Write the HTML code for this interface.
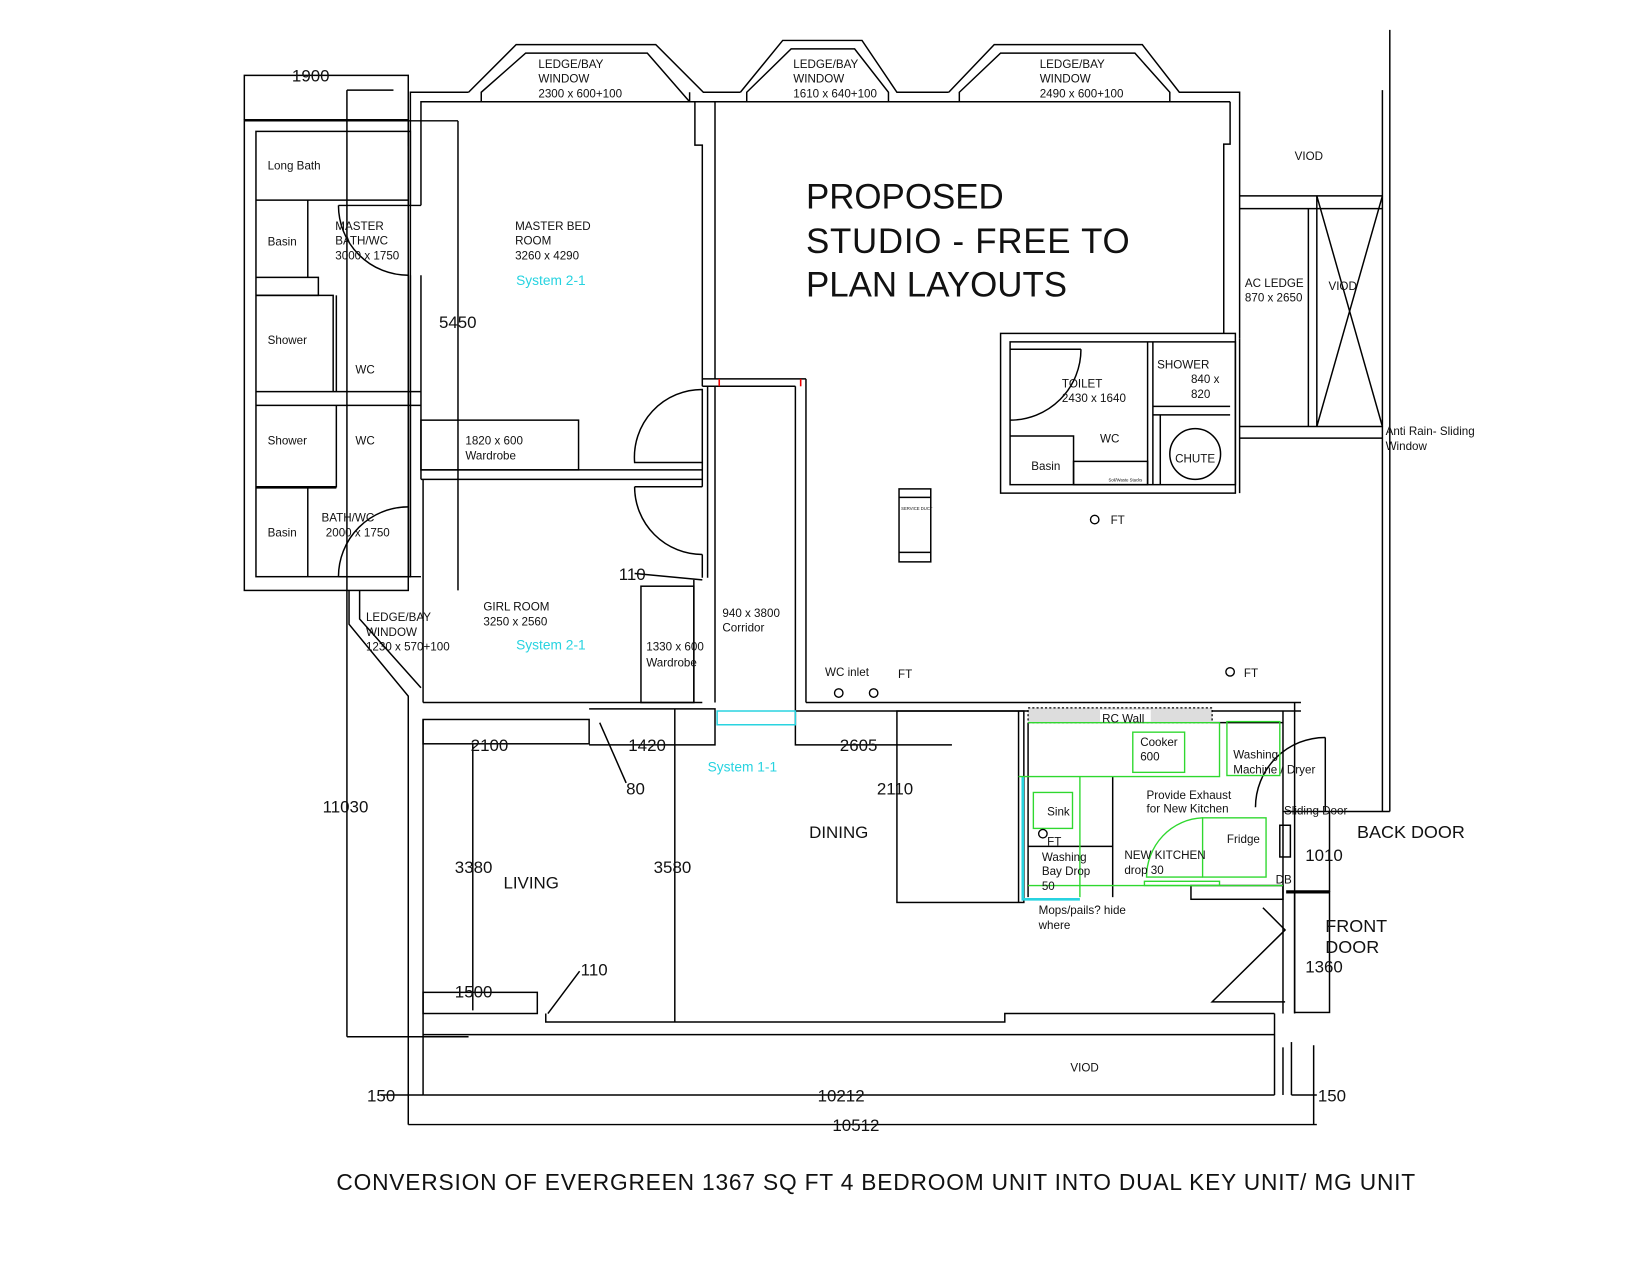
<!DOCTYPE html>
<html><head><meta charset="utf-8"><style>
html,body{margin:0;padding:0;background:#fff;}
svg{display:block;}
text{font-family:"Liberation Sans",Arial,sans-serif;fill:#111;}
.s{font-size:11px;}
.m{font-size:16px;}
.c{fill:#27d3e0;font-size:13px;}
</style></head><body>
<svg width="1650" height="1275" viewBox="0 0 1560 1205" xmlns="http://www.w3.org/2000/svg">
<g fill="none" stroke="#000" stroke-width="1.4">
<polyline points="231,113 231,71 386,71 386,138"/>
<rect x="231" y="113" width="155" height="445"/>
<rect x="242" y="124" width="146" height="421"/>
<line x1="242" y1="189" x2="386" y2="189"/>
<line x1="291" y1="189" x2="291" y2="262"/>
<polyline points="242,262 301,262 301,279 242,279"/>
<polyline points="242,279 315,279 315,370"/>
<line x1="318" y1="279" x2="318" y2="370"/>
<line x1="242" y1="370" x2="398" y2="370"/>
<line x1="242" y1="383" x2="398" y2="383"/>
<polyline points="242,460 318,460 318,383"/>
<line x1="242" y1="461" x2="318" y2="461"/>
<line x1="291" y1="461" x2="291" y2="545"/>
<line x1="328" y1="85" x2="328" y2="980"/>
<line x1="328" y1="85" x2="372" y2="85"/>
<line x1="328" y1="980" x2="443" y2="980"/>
<line x1="231" y1="114" x2="433" y2="114"/>
<line x1="433" y1="114" x2="433" y2="558"/>
<path d="M320,194 A66,66 0 0 0 386,260"/>
<line x1="320" y1="194" x2="398" y2="194"/>
<path d="M320,545 A66,66 0 0 1 386,479"/>
<line x1="320" y1="545" x2="398" y2="545"/>
<polyline points="388,194 388,87 443,87"/>
<polyline points="398,194 398,96 455,96"/>
<line x1="388" y1="260" x2="388" y2="545"/>
<line x1="398" y1="260" x2="398" y2="453"/>
<polyline points="443,87 488,42 620,42 665,87 700,87"/>
<polyline points="455,96 455,87 497,50 612,50 652,96"/>
<line x1="652" y1="96" x2="652" y2="87"/>
<polyline points="700,87 740,38 815,38 848,87 897,87"/>
<polyline points="706,96 706,87 748,46 808,46 840,87 840,96"/>
<polyline points="897,87 940,42 1080,42 1115,87 1172,87 1172,320"/>
<polyline points="907,96 907,87 946,50 1073,50 1106,87 1106,96"/>
<line x1="398" y1="96" x2="1163" y2="96"/>
<polyline points="1163,96 1163,136 1157,136 1157,315"/>
<polyline points="657,96 657,137 664,137 664,365"/>
<line x1="676" y1="96" x2="676" y2="358"/>
<line x1="664" y1="437" x2="664" y2="460"/>
<line x1="398" y1="444" x2="664" y2="444"/>
<line x1="398" y1="453" x2="664" y2="453"/>
<rect x="398" y="397" width="149" height="47"/>
<path d="M664,368 A64,64 0 0 0 600,437 L664,437 Z"/>
<path d="M600,460 A64,64 0 0 0 664,524 M600,460 L664,460"/>
<line x1="664" y1="524" x2="664" y2="546"/>
<line x1="669" y1="365" x2="669" y2="546"/>
<polyline points="600,542 664,548"/>
<line x1="400" y1="453" x2="400" y2="664"/>
<line x1="400" y1="664" x2="664" y2="664"/>
<line x1="656" y1="548" x2="656" y2="664"/>
<rect x="606" y="554" width="50" height="110"/>
<line x1="664" y1="358" x2="762" y2="358"/>
<line x1="664" y1="365" x2="752" y2="365"/>
<line x1="676" y1="365" x2="676" y2="664"/>
<line x1="752" y1="365" x2="752" y2="664"/>
<line x1="762" y1="358" x2="762" y2="664"/>
<line x1="762" y1="664" x2="1230" y2="664"/>
<line x1="752" y1="672" x2="1230" y2="672"/>
<rect x="850" y="462" width="30" height="69"/>
<line x1="850" y1="470" x2="880" y2="470"/>
<line x1="850" y1="522" x2="880" y2="522"/>
<rect x="946" y="315" width="222" height="151"/>
<rect x="955" y="323" width="213" height="135"/>
<line x1="1085" y1="323" x2="1085" y2="458"/>
<line x1="1090" y1="323" x2="1090" y2="458"/>
<line x1="1090" y1="384" x2="1163" y2="384"/>
<line x1="1090" y1="392" x2="1163" y2="392"/>
<line x1="1097" y1="392" x2="1097" y2="458"/>
<circle cx="1130" cy="429" r="24"/>
<line x1="955" y1="330" x2="1022" y2="330"/>
<path d="M1022,330 A67,67 0 0 1 955,397"/>
<polyline points="955,412 1015,412 1015,458"/>
<rect x="1015" y="436" width="70" height="22"/>
<line x1="1172" y1="185" x2="1307" y2="185"/>
<line x1="1172" y1="197" x2="1307" y2="197"/>
<line x1="1237" y1="197" x2="1237" y2="403"/>
<line x1="1245" y1="185" x2="1245" y2="403"/>
<line x1="1245" y1="185" x2="1307" y2="403"/>
<line x1="1307" y1="185" x2="1245" y2="403"/>
<line x1="1172" y1="403" x2="1307" y2="403"/>
<line x1="1172" y1="414" x2="1307" y2="414"/>
<line x1="1172" y1="320" x2="1172" y2="466"/>
<line x1="1307" y1="85" x2="1307" y2="767"/>
<line x1="1314" y1="28" x2="1314" y2="767"/>
<polyline points="330,558 330,590 386,658 386,1063"/>
<polyline points="340,558 340,585 398,650"/>
<line x1="400" y1="680" x2="400" y2="1035"/>
<rect x="400" y="680" width="157" height="23"/>
<line x1="447" y1="703" x2="447" y2="955"/>
<polyline points="557,670 676,670 676,704 557,704"/>
<line x1="567" y1="683" x2="592" y2="740"/>
<line x1="638" y1="670" x2="638" y2="966"/>
<rect x="400" y="938" width="108" height="20"/>
<line x1="518" y1="958" x2="548" y2="918"/>
<polyline points="752,664 752,704 900,704"/>
<rect x="848" y="672" width="120" height="181"/>
<polyline points="516,958 516,966 950,966 950,958 1205,958"/>
<line x1="400" y1="978" x2="1205" y2="978"/>
<line x1="1205" y1="958" x2="1205" y2="1035"/>
<line x1="400" y1="1035" x2="1205" y2="1035"/>
<line x1="360" y1="1035" x2="400" y2="1035"/>
<line x1="386" y1="1063" x2="1245" y2="1063"/>
<line x1="1213" y1="990" x2="1213" y2="1035"/>
<line x1="1221" y1="985" x2="1221" y2="1035"/>
<line x1="1242" y1="988" x2="1242" y2="1063"/>
<line x1="1221" y1="1035" x2="1245" y2="1035"/>
<line x1="963" y1="672" x2="963" y2="853"/>
<line x1="972" y1="683" x2="972" y2="848"/>
<line x1="1052" y1="734" x2="1052" y2="848"/>
<line x1="972" y1="800" x2="1052" y2="800"/>
<line x1="1213" y1="672" x2="1213" y2="958"/>
<line x1="1224" y1="664" x2="1224" y2="958"/>
<polyline points="1146,683 1213,683"/>
<rect x="1126" y="837" width="87" height="13"/>
<rect x="1210" y="780" width="10" height="30"/>
<polyline points="1194,858 1215,879 1146,947 1215,947"/>
<rect x="1224" y="843" width="33" height="114"/>
<line x1="1216" y1="843" x2="1257" y2="843" stroke-width="3"/>
<line x1="1257" y1="767" x2="1257" y2="843"/>
<line x1="1213" y1="767" x2="1314" y2="767"/>
<line x1="1253" y1="697" x2="1253" y2="767"/>
<path d="M1253,697 A66,66 0 0 0 1187,763"/>
</g>
<rect x="972" y="669" width="174" height="14" fill="#ddd" stroke="#000" stroke-dasharray="2,2" stroke-width="1.2"/>
<rect x="1040" y="671" width="48" height="11" fill="#fff"/>
<line x1="680" y1="358" x2="680" y2="365" stroke="#e00" stroke-width="1.5"/>
<line x1="757" y1="358" x2="757" y2="365" stroke="#e00" stroke-width="1.5"/>
<rect x="678" y="672" width="74" height="13" fill="none" stroke="#27d3e0" stroke-width="1.4"/>
<polyline points="967,734 967,850 1021,850" fill="none" stroke="#27d3e0" stroke-width="2.5"/>
<g fill="none" stroke="#2fd82f" stroke-width="1.3">
<polyline points="972,683 1153,683 1153,734 963,734"/>
<rect x="1071" y="692" width="49" height="38"/>
<rect x="1160" y="682" width="50" height="51"/>
<line x1="1021" y1="734" x2="1021" y2="848"/>
<line x1="972" y1="837" x2="1213" y2="837"/>
<rect x="977" y="749" width="37" height="34"/>
<rect x="1137" y="773" width="60" height="56"/>
<path d="M1137,773 A55,56 0 0 0 1084,829 L1137,829"/>
<rect x="1082" y="833" width="71" height="4"/>
</g>
<g fill="none" stroke="#000" stroke-width="1.3">
<circle cx="793" cy="655" r="4"/><circle cx="826" cy="655" r="4"/>
<circle cx="1163" cy="635" r="4"/><circle cx="1035" cy="491" r="4"/>
<circle cx="986" cy="788" r="4"/>
</g>
<text class="m" x="276" y="77">1900</text>
<text class="s" x="253" y="160">Long Bath</text>
<text class="s" x="253" y="232">Basin</text>
<text class="s" x="253" y="325">Shower</text>
<text class="s" x="253" y="420">Shower</text>
<text class="s" x="253" y="507">Basin</text>
<text class="s" x="317" y="217">MASTER</text>
<text class="s" x="317" y="231">BATH/WC</text>
<text class="s" x="317" y="245">3000 x 1750</text>
<text class="s" x="336" y="353">WC</text>
<text class="s" x="336" y="420">WC</text>
<text class="s" x="304" y="493">BATH/WC</text>
<text class="s" x="308" y="507">2000 x 1750</text>
<text class="m" x="415" y="310">5450</text>
<text class="s" x="487" y="217">MASTER BED</text>
<text class="s" x="487" y="231">ROOM</text>
<text class="s" x="487" y="245">3260 x 4290</text>
<text class="c" x="488" y="269">System 2-1</text>
<text class="s" x="440" y="420">1820 x 600</text>
<text class="s" x="440" y="434">Wardrobe</text>
<text class="s" x="509" y="64">LEDGE/BAY</text>
<text class="s" x="509" y="78">WINDOW</text>
<text class="s" x="509" y="92">2300 x 600+100</text>
<text class="s" x="750" y="64">LEDGE/BAY</text>
<text class="s" x="750" y="78">WINDOW</text>
<text class="s" x="750" y="92">1610 x 640+100</text>
<text class="s" x="983" y="64">LEDGE/BAY</text>
<text class="s" x="983" y="78">WINDOW</text>
<text class="s" x="983" y="92">2490 x 600+100</text>
<text x="762" y="197" font-size="33">PROPOSED</text>
<text x="762" y="239" font-size="33" textLength="306">STUDIO - FREE TO</text>
<text x="762" y="280" font-size="33">PLAN LAYOUTS</text>
<text class="s" x="1224" y="151">VIOD</text>
<text class="s" x="1177" y="271">AC LEDGE</text>
<text class="s" x="1177" y="285">870 x 2650</text>
<text class="s" x="1256" y="274">VIOD</text>
<text class="s" x="1310" y="411">Anti Rain- Sliding</text>
<text class="s" x="1310" y="425">Window</text>
<text class="s" x="1004" y="366">TOILET</text>
<text class="s" x="1004" y="380">2430 x 1640</text>
<text class="s" x="1094" y="348">SHOWER</text>
<text class="s" x="1126" y="362">840 x</text>
<text class="s" x="1126" y="376">820</text>
<text class="s" x="1111" y="437">CHUTE</text>
<text class="s" x="975" y="444">Basin</text>
<text class="s" x="1040" y="418">WC</text>
<text x="1048" y="455" font-size="4">Soil/Waste Stacks</text>
<text x="852" y="482" font-size="4">SERVICE DUCT</text>
<text class="s" x="1050" y="495">FT</text>
<text x="585" y="548" font-size="16">110</text>
<text class="s" x="457" y="577">GIRL ROOM</text>
<text class="s" x="457" y="591">3250 x 2560</text>
<text class="c" x="488" y="614">System 2-1</text>
<text class="s" x="611" y="615">1330 x 600</text>
<text class="s" x="611" y="630">Wardrobe</text>
<text class="s" x="683" y="583">940 x 3800</text>
<text class="s" x="683" y="597">Corridor</text>
<text class="s" x="346" y="587">LEDGE/BAY</text>
<text class="s" x="346" y="601">WINDOW</text>
<text class="s" x="346" y="615">1230 x 570+100</text>
<text class="s" x="780" y="639">WC inlet</text>
<text class="s" x="849" y="641">FT</text>
<text class="s" x="1176" y="640">FT</text>
<text class="m" x="305" y="768">11030</text>
<text class="m" x="445" y="710">2100</text>
<text class="m" x="594" y="710">1420</text>
<text class="m" x="592" y="751">80</text>
<text class="c" x="669" y="729">System 1-1</text>
<text class="m" x="794" y="710">2605</text>
<text class="m" x="829" y="751">2110</text>
<text x="765" y="792" font-size="16">DINING</text>
<text class="m" x="430" y="825">3380</text>
<text x="476" y="840" font-size="16">LIVING</text>
<text class="m" x="618" y="825">3580</text>
<text class="m" x="430" y="943">1500</text>
<text class="m" x="549" y="922">110</text>
<text class="s" x="1042" y="683">RC Wall</text>
<text class="s" x="1078" y="705">Cooker</text>
<text class="s" x="1078" y="719">600</text>
<text class="s" x="1166" y="717">Washing</text>
<text class="s" x="1166" y="731">Machine / Dryer</text>
<text class="s" x="1084" y="755">Provide Exhaust</text>
<text class="s" x="1084" y="768">for New Kitchen</text>
<text class="s" x="990" y="771">Sink</text>
<text class="s" x="990" y="799">FT</text>
<text class="s" x="985" y="814">Washing</text>
<text class="s" x="985" y="827">Bay Drop</text>
<text class="s" x="985" y="841">50</text>
<text class="s" x="1063" y="812">NEW KITCHEN</text>
<text class="s" x="1063" y="826">drop 30</text>
<text class="s" x="1160" y="797">Fridge</text>
<text class="s" x="1206" y="835">DB</text>
<text class="s" x="1214" y="770">Sliding Door</text>
<text class="s" x="982" y="864">Mops/pails? hide</text>
<text class="s" x="982" y="878">where</text>
<text x="1283" y="792" font-size="17">BACK DOOR</text>
<text class="m" x="1234" y="814">1010</text>
<text x="1253" y="881" font-size="17">FRONT</text>
<text x="1253" y="901" font-size="17">DOOR</text>
<text class="m" x="1234" y="919">1360</text>
<text class="s" x="1012" y="1013">VIOD</text>
<text class="m" x="347" y="1041">150</text>
<text class="m" x="773" y="1041">10212</text>
<text class="m" x="1246" y="1041">150</text>
<text class="m" x="787" y="1069">10512</text>
<text x="318" y="1125" font-size="21.5" textLength="1020">CONVERSION OF EVERGREEN 1367 SQ FT 4 BEDROOM UNIT INTO DUAL KEY UNIT/ MG UNIT</text>
</svg>
</body></html>
